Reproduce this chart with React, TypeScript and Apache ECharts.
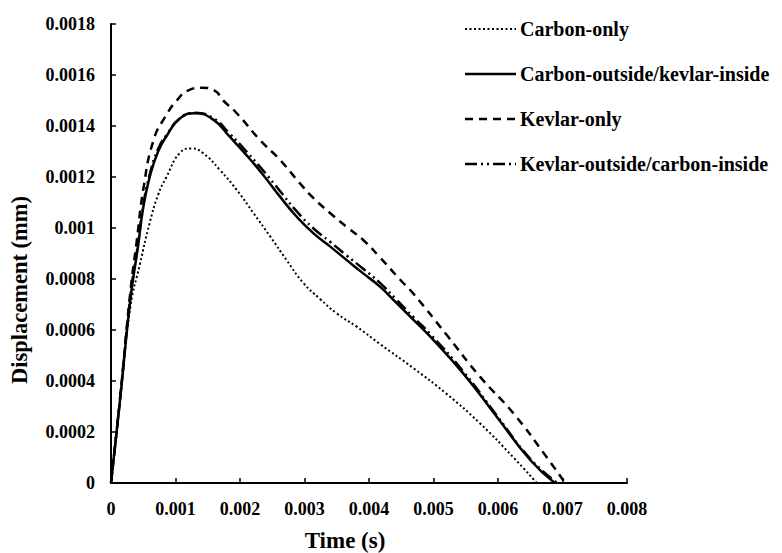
import React, { useEffect, useRef } from "react";
import * as echarts from "echarts";

// ---- data ----
const seriesNames = [
  "Carbon-only",
  "Carbon-outside/kevlar-inside",
  "Kevlar-only",
  "Kevlar-outside/carbon-inside",
];

const tCarbonOnly = [0, 0.00014, 0.0003, 0.00045, 0.0006, 0.00073, 0.00086, 0.00107, 0.00125, 0.00143, 0.00169, 0.00195, 0.00221, 0.00247, 0.00272, 0.00298, 0.00324, 0.0035, 0.00381, 0.00417, 0.00469, 0.0052, 0.00572, 0.00624, 0.0066];
const dCarbonOnly = [0, 0.00032, 0.00069, 0.00086, 0.00102, 0.00113, 0.0012, 0.001295, 0.001312, 0.001293, 0.001227, 0.001149, 0.001058, 0.000966, 0.000875, 0.000785, 0.000722, 0.000665, 0.000613, 0.000545, 0.00045, 0.00035, 0.000234, 0.0001, 0];

const tCarbonOut = [0, 0.00014, 0.0003, 0.00042, 0.0005, 0.0006, 0.00073, 0.00086, 0.00107, 0.0013, 0.00159, 0.00184, 0.0021, 0.00236, 0.00262, 0.00288, 0.00314, 0.0034, 0.00365, 0.00391, 0.00417, 0.00443, 0.00469, 0.00495, 0.00546, 0.00598, 0.0065, 0.00688];
const dCarbonOut = [0, 0.000325, 0.00072, 0.00093, 0.00108, 0.0012, 0.0013, 0.00136, 0.00143, 0.00145, 0.001424, 0.001358, 0.001286, 0.001208, 0.001123, 0.001044, 0.000979, 0.000927, 0.000875, 0.000822, 0.00077, 0.000705, 0.00064, 0.000574, 0.00043, 0.00026, 0.00009, 0];

const tKevlarOnly = [0, 0.00014, 0.0003, 0.0004, 0.0005, 0.00066, 0.00085, 0.00102, 0.0012, 0.0014, 0.0016, 0.00174, 0.00195, 0.00231, 0.00262, 0.00293, 0.00314, 0.0034, 0.00365, 0.00391, 0.00417, 0.00448, 0.00469, 0.0052, 0.00572, 0.00624, 0.00675, 0.00704];
const dKevlarOnly = [0, 0.00033, 0.00075, 0.00095, 0.00115, 0.001345, 0.00144, 0.0015, 0.00154, 0.00155, 0.00154, 0.0015, 0.00145, 0.001345, 0.001267, 0.001175, 0.001117, 0.001058, 0.001005, 0.000953, 0.000885, 0.000798, 0.000742, 0.000582, 0.000417, 0.000273, 0.000103, 0];

const tKevlarOut = [0, 0.00014, 0.0003, 0.00042, 0.0005, 0.0006, 0.00073, 0.00086, 0.00107, 0.0013, 0.00159, 0.00184, 0.0021, 0.00236, 0.00262, 0.00288, 0.00314, 0.0034, 0.00365, 0.00391, 0.00417, 0.00443, 0.00469, 0.00495, 0.00546, 0.00598, 0.0065, 0.00692];
const dKevlarOut = [0, 0.00033, 0.00073, 0.00094, 0.00109, 0.00121, 0.00131, 0.001365, 0.00143, 0.001452, 0.00143, 0.00137, 0.0013, 0.001225, 0.001145, 0.001065, 0.000998, 0.000945, 0.000893, 0.00084, 0.000785, 0.000718, 0.00065, 0.000584, 0.000438, 0.000265, 0.000095, 0];

const xTicks = { min: 0, max: 0.008, interval: 0.001 };
const yTicks = { min: 0, max: 0.0018, interval: 0.0002 };
const xAxisName = "Time (s)";
const yAxisName = "Displacement (mm)";

const FONT = '"Liberation Serif", "Times New Roman", serif';

const zip = (t: number[], d: number[]) => t.map((v, i) => [v, d[i]]);

const lineStyles = [
  { width: 2, type: [2, 2.5] as any },
  { width: 2.5, type: "solid" as any },
  { width: 2.5, type: [8, 6] as any },
  { width: 2.5, type: [12, 4, 2, 4, 2, 4] as any },
];

const seriesData = [
  zip(tCarbonOnly, dCarbonOnly),
  zip(tCarbonOut, dCarbonOut),
  zip(tKevlarOnly, dKevlarOnly),
  zip(tKevlarOut, dKevlarOut),
];

export default function App() {
  const ref = useRef<HTMLDivElement>(null);
  useEffect(() => {
    if (!ref.current) return;
    const chart = echarts.init(ref.current, undefined, { renderer: "svg" });
    const fmt = (v: number) => String(+v.toFixed(4));
    const legendY = [29, 74, 119, 164];
    const graphic: any[] = [];
    seriesNames.forEach((name, i) => {
      graphic.push({
        type: "line",
        shape: { x1: 465, y1: legendY[i], x2: 516, y2: legendY[i] },
        style: {
          stroke: "#000",
          lineWidth: lineStyles[i].width,
          lineDash: Array.isArray(lineStyles[i].type) ? lineStyles[i].type : null,
        },
      });
      graphic.push({
        type: "text",
        x: 520,
        y: legendY[i],
        style: {
          text: name,
          fill: "#000",
          font: `bold 20px ${FONT}`,
          verticalAlign: "middle",
          align: "left",
        },
      });
    });
    graphic.push({
      type: "text",
      x: 345,
      y: 540,
      style: {
        text: xAxisName,
        fill: "#000",
        font: `bold 23px ${FONT}`,
        align: "center",
        verticalAlign: "middle",
      },
    });
    graphic.push({
      type: "text",
      x: 19,
      y: 290,
      rotation: Math.PI / 2,
      style: {
        text: yAxisName,
        fill: "#000",
        font: `bold 22.5px ${FONT}`,
        align: "center",
        verticalAlign: "middle",
      },
    });
    chart.setOption({
      animation: false,
      backgroundColor: "#fff",
      grid: { left: 111, right: 155, top: 24, bottom: 70, containLabel: false },
      xAxis: {
        type: "value",
        min: xTicks.min,
        max: xTicks.max,
        interval: xTicks.interval,
        axisLine: { lineStyle: { color: "#000", width: 2 } },
        axisTick: { inside: true, length: 5, lineStyle: { color: "#000", width: 1.5 } },
        axisLabel: {
          formatter: fmt,
          fontFamily: FONT,
          fontWeight: "bold",
          fontSize: 18,
          color: "#000",
          margin: 17,
        },
        splitLine: { show: false },
      },
      yAxis: {
        type: "value",
        min: yTicks.min,
        max: yTicks.max,
        interval: yTicks.interval,
        axisLine: { show: true, lineStyle: { color: "#000", width: 2 } },
        axisTick: { show: true, inside: true, length: 5, lineStyle: { color: "#000", width: 1.5 } },
        axisLabel: {
          formatter: fmt,
          fontFamily: FONT,
          fontWeight: "bold",
          fontSize: 18,
          color: "#000",
          margin: 16,
        },
        splitLine: { show: false },
      },
      series: seriesNames.map((name, i) => ({
        name,
        type: "line",
        data: seriesData[i],
        smooth: 0.5,
        showSymbol: false,
        symbol: "none",
        lineStyle: { color: "#000", width: lineStyles[i].width, type: lineStyles[i].type },
        itemStyle: { color: "#000" },
        z: 3,
      })),
      graphic,
    });
    return () => chart.dispose();
  }, []);
  return (
    <div
      ref={ref}
      style={{ position: "absolute", left: 0, top: 0, width: 782, height: 553 }}
    />
  );
}
